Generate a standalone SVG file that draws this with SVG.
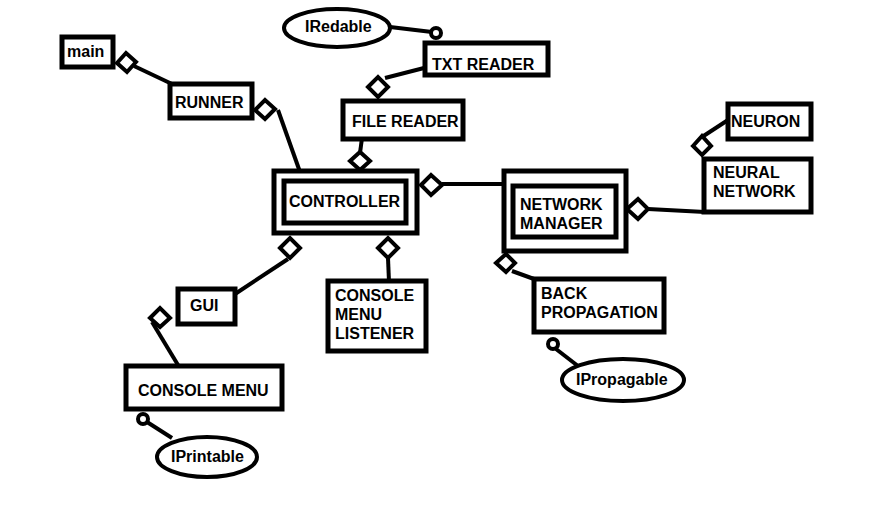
<svg xmlns="http://www.w3.org/2000/svg" width="884" height="522" viewBox="0 0 884 522">
<style>
.b{fill:#fff;stroke:#000;stroke-width:5}
.t{font-family:"Liberation Sans",Arial,sans-serif;font-weight:bold;font-size:16px;fill:#000}
.l{stroke:#000;stroke-width:4;fill:none}
.d{fill:#fff;stroke:#000;stroke-width:4}
.c{fill:#fff;stroke:#000;stroke-width:4}
.e{fill:#fff;stroke:#000;stroke-width:4}
</style>
<rect width="884" height="522" fill="#fff"/>
<g id="connectors">
<line class="l" x1="134" y1="66" x2="172" y2="84"/>
<line class="l" x1="278" y1="110" x2="300" y2="172"/>
<line class="l" x1="390" y1="27" x2="432" y2="32"/>
<line class="l" x1="424" y1="68" x2="385" y2="78"/>
<line class="l" x1="362" y1="138" x2="360" y2="153"/>
<line class="l" x1="442" y1="184" x2="503" y2="184"/>
<line class="l" x1="648" y1="209" x2="705" y2="212"/>
<line class="l" x1="702" y1="137" x2="728" y2="120"/>
<line class="l" x1="288" y1="259" x2="235" y2="294"/>
<line class="l" x1="388" y1="258" x2="389" y2="282"/>
<line class="l" x1="152" y1="322" x2="178" y2="365"/>
<line class="l" x1="147" y1="422" x2="172" y2="438"/>
<line class="l" x1="512" y1="271" x2="534" y2="279"/>
<line class="l" x1="556" y1="349" x2="578" y2="366"/>
<polygon class="d" points="117,63 126,53 136,62 127,72"/>
<polygon class="d" points="255,110 265,100 275,109 265,119"/>
<polygon class="d" points="368,87 378,77 388,87 378,97"/>
<polygon class="d" points="350,161 360,152 370,161 360,170"/>
<polygon class="d" points="421,185 431,175 442,185 431,195"/>
<polygon class="d" points="627,209 638,199 648,209 638,219"/>
<polygon class="d" points="693,146 702,136 711,146 702,155"/>
<polygon class="d" points="280,248 290,238 300,248 290,258"/>
<polygon class="d" points="378,248 388,238 398,248 388,258"/>
<polygon class="d" points="150,318 160,308 170,318 160,327"/>
<polygon class="d" points="496,263 506,254 515,263 506,272"/>
<circle class="c" cx="436" cy="33" r="5"/>
<circle class="c" cx="143" cy="419" r="5"/>
<circle class="c" cx="553" cy="344" r="5"/>
</g>
<g id="main"><rect class="b" x="62" y="37" width="51" height="30"/><text class="t" x="67" y="57">main</text></g>
<g id="runner"><rect class="b" x="170" y="84" width="82" height="34"/><text class="t" x="175" y="108">RUNNER</text></g>
<g id="iredable"><ellipse class="e" cx="337" cy="28" rx="53" ry="19"/><text class="t" x="305" y="32">IRedable</text></g>
<g id="txtreader"><rect class="b" x="425" y="43" width="123" height="32"/><text class="t" x="432" y="70">TXT READER</text></g>
<g id="filereader"><rect class="b" x="343" y="101" width="120" height="38"/><text class="t" x="352" y="127">FILE READER</text></g>
<g id="controller"><rect class="b" x="274" y="171" width="143" height="62"/><rect class="b" x="284" y="181" width="122" height="42"/><text class="t" x="289" y="207">CONTROLLER</text></g>
<g id="networkmanager"><rect class="b" x="504" y="171" width="122" height="80"/><rect class="b" x="513" y="186" width="103" height="51"/><text class="t" x="520" y="210">NETWORK</text><text class="t" x="520" y="229">MANAGER</text></g>
<g id="neuron"><rect class="b" x="728" y="104" width="83" height="35"/><text class="t" x="731" y="127">NEURON</text></g>
<g id="neuralnetwork"><rect class="b" x="704" y="159" width="107" height="53"/><text class="t" x="713" y="178">NEURAL</text><text class="t" x="713" y="197">NETWORK</text></g>
<g id="gui"><rect class="b" x="178" y="289" width="57" height="35"/><text class="t" x="190" y="311">GUI</text></g>
<g id="consolemenulistener"><rect class="b" x="328" y="281" width="98" height="70"/><text class="t" x="335" y="301">CONSOLE</text><text class="t" x="335" y="320">MENU</text><text class="t" x="335" y="339">LISTENER</text></g>
<g id="consolemenu"><rect class="b" x="126" y="366" width="156" height="43"/><text class="t" x="138" y="396">CONSOLE MENU</text></g>
<g id="iprintable"><ellipse class="e" cx="207" cy="457" rx="50" ry="20"/><text class="t" x="171" y="462">IPrintable</text></g>
<g id="backpropagation"><rect class="b" x="534" y="279" width="130" height="53"/><text class="t" x="541" y="299">BACK</text><text class="t" x="541" y="318">PROPAGATION</text></g>
<g id="ipropagable"><ellipse class="e" cx="623" cy="380" rx="61" ry="21"/><text class="t" x="576" y="385">IPropagable</text></g>
</svg>
